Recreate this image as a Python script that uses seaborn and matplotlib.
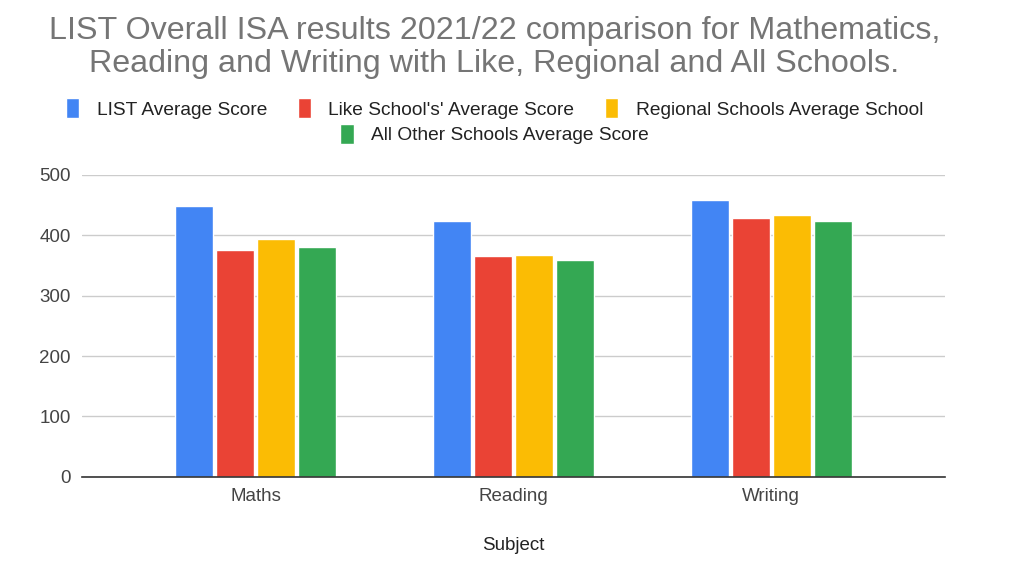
import pandas as pd
import matplotlib
matplotlib.use("Agg")
import matplotlib.pyplot as plt
import seaborn as sns

# Data
subjects = ["Maths", "Reading", "Writing"]
series_names = [
    "LIST Average Score",
    "Like School's' Average Score",
    "Regional Schools Average School",
    "All Other Schools Average Score",
]
list_avg = [448, 424, 458]
like_avg = [376, 365, 428]
regional_avg = [394, 368, 434]
other_avg = [380, 359, 423]
colors = ["#4285F4", "#EA4335", "#FBBC04", "#34A853"]

rows = []
for name, vals in zip(series_names, [list_avg, like_avg, regional_avg, other_avg]):
    for subj, v in zip(subjects, vals):
        rows.append({"Subject": subj, "Series": name, "Score": v})
df = pd.DataFrame(rows)

sns.set_style("white")
plt.rcParams["font.family"] = ["Liberation Sans", "DejaVu Sans"]

fig = plt.figure(figsize=(10.11, 5.86), dpi=100)
ax = fig.add_axes([0.0811, 0.1865, 0.8536, 0.5149])

sns.barplot(data=df, x="Subject", y="Score", hue="Series", palette=colors,
            width=0.636, gap=0.08, saturation=1, ax=ax, legend=True)

ax.set_xlim(-0.674, 2.674)
ax.set_ylim(0, 500)
ax.set_yticks([0, 100, 200, 300, 400, 500])
ax.yaxis.grid(True, color="#cccccc", linewidth=1)
ax.set_axisbelow(True)
for s in ["top", "right", "left"]:
    ax.spines[s].set_visible(False)
ax.spines["bottom"].set_color("#333333")
ax.spines["bottom"].set_linewidth(1.2)
ax.tick_params(axis="both", length=0, labelsize=13.5, colors="#444444", pad=8)
ax.set_ylabel("")
ax.set_xlabel("Subject", fontsize=13.5, color="#222222", labelpad=23)

handles, labels = ax.get_legend_handles_labels()
ax.get_legend().remove()
leg_kw = dict(frameon=False, fontsize=13.8, handlelength=0.7, handleheight=1.2,
              handletextpad=0.9, columnspacing=1.6, labelcolor="#222222")
fig.legend(handles[:3], labels[:3], loc="center", ncol=3,
           bbox_to_anchor=(0.489, 0.815), **leg_kw)
fig.legend(handles[3:], labels[3:], loc="center", ncol=1,
           bbox_to_anchor=(0.489, 0.771), **leg_kw)

fig.text(0.489, 0.919,
         "LIST Overall ISA results 2021/22 comparison for Mathematics,\n"
         "Reading and Writing with Like, Regional and All Schools.",
         ha="center", va="center", fontsize=23.2, color="#757575", linespacing=1.1)

fig.savefig("out.png", dpi=100, facecolor="white")
